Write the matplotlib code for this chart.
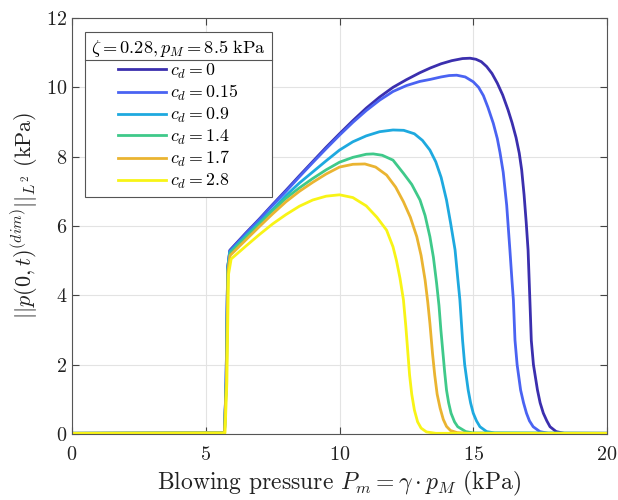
import matplotlib
matplotlib.use('Agg')
import matplotlib.pyplot as plt
from matplotlib.lines import Line2D

plt.rcParams['font.family'] = 'serif'
plt.rcParams['font.serif'] = ['cmr10']
plt.rcParams['mathtext.fontset'] = 'cm'
plt.rcParams['axes.formatter.use_mathtext'] = True

# blowing pressure (kPa) / L2 norm (kPa), one pair per damping value
x_cd0 = [0, 5.70, 5.76, 5.82, 5.90, 6.5, 7.0, 7.5, 8.0, 8.5, 9.0, 9.5, 10.0, 10.5,
         11.0, 11.5, 12.0, 12.5, 13.0, 13.4, 13.8, 14.2, 14.6, 14.88, 15.1,
         15.3, 15.5, 15.7, 15.9, 16.1, 16.3, 16.45, 16.6, 16.72, 16.81, 16.9,
         16.98, 17.05, 17.12, 17.17, 17.25, 17.4, 17.5, 17.62, 17.75, 17.87,
         18.1, 18.4, 20]
y_cd0 = [0.02, 0.03, 1.5, 4.8, 5.3, 5.8, 6.2, 6.62, 7.03, 7.45, 7.86, 8.27, 8.66,
         9.04, 9.4, 9.72, 10.0, 10.22, 10.42, 10.56, 10.68, 10.77, 10.83, 10.84,
         10.81, 10.74, 10.6, 10.4, 10.12, 9.78, 9.35, 8.98, 8.55, 8.1, 7.62,
         6.9, 6.1, 5.3, 3.8, 2.7, 2.0, 1.27, 0.9, 0.6, 0.38, 0.21, 0.07, 0.02,
         0.02]

x_cd015 = [0, 5.70, 5.76, 5.82, 5.90, 6.5, 7.0, 7.5, 8.0, 8.5, 9.0, 9.5, 10.0,
           10.5, 11.0, 11.5, 12.0, 12.5, 13.0, 13.4, 13.8, 14.1, 14.38, 14.7,
           15.0, 15.2, 15.38, 15.55, 15.75, 15.9, 16.0, 16.12, 16.25, 16.37,
           16.45, 16.5, 16.56, 16.64, 16.77, 16.88, 16.99, 17.1, 17.24, 17.49,
           17.8, 20]
y_cd015 = [0.02, 0.03, 1.5, 4.8, 5.28, 5.78, 6.18, 6.6, 7.0, 7.42, 7.83, 8.23,
           8.62, 8.99, 9.33, 9.63, 9.88, 10.05, 10.17, 10.23, 10.3, 10.34, 10.35,
           10.3, 10.16, 10.0, 9.76, 9.42, 8.96, 8.52, 8.12, 7.55, 6.6, 5.31, 4.4,
           3.87, 2.71, 2.0, 1.27, 0.9, 0.6, 0.38, 0.21, 0.07, 0.02, 0.02]

x_cd09 = [0, 5.70, 5.76, 5.82, 5.90, 6.5, 7.0, 7.5, 8.0, 8.5, 9.0, 9.5, 10.0,
          10.5, 11.0, 11.5, 12.0, 12.4, 12.8, 13.1, 13.38, 13.6, 13.8, 14.0,
          14.15, 14.32, 14.42, 14.5, 14.6, 14.68, 14.81, 14.9, 15.0, 15.12,
          15.25, 15.5, 15.8, 20]
y_cd09 = [0.02, 0.03, 1.5, 4.8, 5.25, 5.72, 6.1, 6.48, 6.88, 7.24, 7.56, 7.88,
          8.19, 8.43, 8.6, 8.72, 8.77, 8.76, 8.66, 8.47, 8.19, 7.85, 7.4, 6.75,
          6.1, 5.31, 4.5, 3.87, 2.71, 2.0, 1.27, 0.9, 0.6, 0.38, 0.21, 0.07,
          0.03, 0.02]

x_cd14 = [0, 5.70, 5.77, 5.83, 5.91, 6.5, 7.0, 7.5, 8.0, 8.5, 9.0, 9.5, 10.0,
          10.5, 11.0, 11.26, 11.6, 12.0, 12.39, 12.7, 13.01, 13.2, 13.38, 13.51,
          13.63, 13.72, 13.79, 13.86, 13.93, 14.0, 14.08, 14.17, 14.3, 14.42,
          14.72, 15.0, 20]
y_cd14 = [0.02, 0.03, 1.5, 4.75, 5.22, 5.68, 6.06, 6.44, 6.8, 7.1, 7.37, 7.62,
          7.84, 7.98, 8.07, 8.08, 8.04, 7.9, 7.52, 7.2, 6.75, 6.3, 5.69, 5.1,
          4.35, 3.7, 3.0, 2.4, 1.8, 1.27, 0.9, 0.6, 0.35, 0.21, 0.07, 0.03, 0.02]

x_cd17 = [0, 5.70, 5.77, 5.83, 5.91, 6.5, 7.0, 7.5, 8.0, 8.5, 9.0, 9.5, 10.0,
          10.5, 10.95, 11.35, 11.76, 12.1, 12.39, 12.65, 12.89, 13.05, 13.2,
          13.3, 13.38, 13.48, 13.56, 13.65, 13.76, 13.88, 14.0, 14.15, 14.4,
          14.8, 20]
y_cd17 = [0.02, 0.03, 1.5, 4.7, 5.15, 5.6, 5.98, 6.35, 6.7, 7.0, 7.26, 7.5, 7.7,
          7.78, 7.79, 7.7, 7.47, 7.12, 6.7, 6.25, 5.69, 5.15, 4.44, 3.8, 3.19,
          2.3, 1.7, 1.15, 0.75, 0.42, 0.22, 0.1, 0.04, 0.02, 0.02]

x_cd28 = [0, 5.72, 5.79, 5.85, 5.95, 6.5, 7.0, 7.5, 8.0, 8.5, 9.0, 9.5, 10.0,
          10.5, 11.0, 11.4, 11.76, 12.0, 12.13, 12.26, 12.39, 12.48, 12.55,
          12.62, 12.7, 12.8, 12.92, 13.05, 13.25, 13.6, 20]
y_cd28 = [0.02, 0.03, 1.5, 4.6, 5.05, 5.42, 5.75, 6.06, 6.33, 6.57, 6.75, 6.86,
          6.9, 6.82, 6.58, 6.25, 5.88, 5.4, 5.0, 4.5, 3.87, 3.1, 2.4, 1.7, 1.15,
          0.69, 0.35, 0.17, 0.06, 0.02, 0.02]

labels = [r'$c_d = 0$', r'$c_d = 0.15$', r'$c_d = 0.9$', r'$c_d = 1.4$',
          r'$c_d = 1.7$', r'$c_d = 2.8$']
colors = ['#3b2fae', '#4a63f2', '#1ea9df', '#3fc98a', '#eab431', '#f8f416']
xs = [x_cd0, x_cd015, x_cd09, x_cd14, x_cd17, x_cd28]
ys = [y_cd0, y_cd015, y_cd09, y_cd14, y_cd17, y_cd28]

fig = plt.figure(figsize=(6.18, 5.0), dpi=100)
ax = fig.add_axes([72/618, 66/500, 535/618, 416/500])

for x, y, c, lab in zip(xs, ys, colors, labels):
    ax.plot(x, y, color=c, lw=2.0, label=lab, solid_joinstyle='round')

ax.set_xlim(0, 20)
ax.set_ylim(0, 12)
ax.set_xticks([0, 5, 10, 15, 20])
ax.set_yticks(range(0, 13, 2))
ax.grid(True, color='#e3e3e3', lw=0.8)
ax.set_axisbelow(True)
ax.tick_params(direction='in', top=True, right=True, length=5, width=0.8,
               color='#444444', labelsize=14.5, labelcolor='#222222')
ax.tick_params(axis='x', pad=9)
for s in ax.spines.values():
    s.set_color('#555555')
    s.set_linewidth(0.8)

ax.set_xlabel(r'Blowing pressure $P_m = \gamma \cdot p_M$ (kPa)', fontsize=17,
              color='#222222', labelpad=3)
ax.set_ylabel(r'$||p(0,t)^{(dim)}||_{L^2}$ (kPa)', fontsize=16,
              color='#222222', labelpad=4)
ax.yaxis.label.set_y(0.525)

leg = ax.legend(loc='upper left', bbox_to_anchor=(13/535, 402/416),
                borderaxespad=0, fontsize=12.8, fancybox=False, framealpha=1,
                edgecolor='#555555', handlelength=2.7, handletextpad=0.25,
                labelspacing=0.15, borderpad=0.33,
                title=r'$\zeta = 0.28, p_M = 8.5\ \mathrm{kPa}$',
                title_fontsize=13.2)
leg.get_frame().set_linewidth(0.8)

# separator between legend title and entries
fig.canvas.draw()
tb = leg.get_title().get_window_extent()
eb = leg.get_texts()[0].get_window_extent()
fb = leg.get_frame().get_window_extent()
ysep = (tb.y0 + eb.y1) / 2
inv = fig.transFigure.inverted()
(x0, y0), (x1, _) = inv.transform([(fb.x0, ysep), (fb.x1, ysep)])
fig.add_artist(Line2D([x0, x1], [y0, y0], transform=fig.transFigure,
                      color='#555555', lw=0.8))

fig.savefig('out.png', dpi=100)
